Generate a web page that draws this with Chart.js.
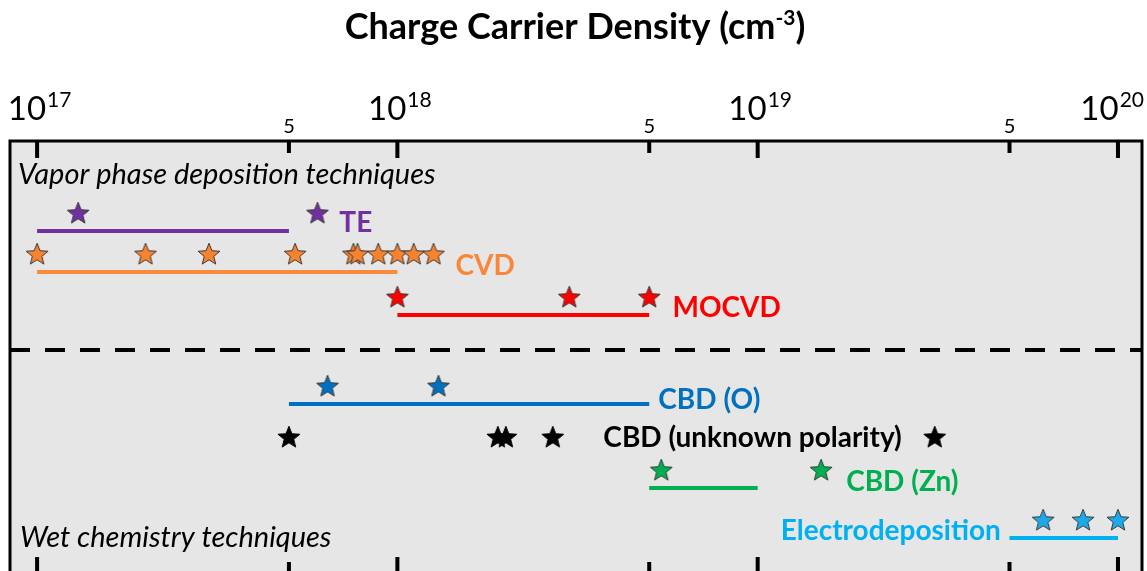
<!DOCTYPE html>
<html>
<head>
<meta charset="utf-8">
<script src="https://cdn.jsdelivr.net/npm/chart.js@4/dist/chart.umd.min.js"></script>
<style>
  html, body { margin: 0; padding: 0; background: #fff; }
  canvas { display: block; }
</style>
</head>
<body>
<canvas id="myChart" width="1147" height="571"></canvas>
<script>
// tick values of the log axis
const tickValues = [1e17, 5e17, 1e18, 5e18, 1e19, 5e19, 1e20];

// ranges (lines) and reported values (stars), cm^-3
const teRange = [1e17, 5e17];
const teStars = [1.3e17, 6.0e17];
const cvdRange = [1e17, 1e18];
const cvdStars = [1.0e17, 2.0e17, 3.0e17, 5.2e17, 7.55e17, 7.75e17, 8.85e17, 1.0e18, 1.11e18, 1.26e18];
const mocvdRange = [1e18, 5e18];
const mocvdStars = [1e18, 3e18, 5e18];
const cbdORange = [5e17, 5e18];
const cbdOStars = [6.4e17, 1.3e18];
const cbdUnknownStars = [5e17, 1.9e18, 2.0e18, 2.7e18, 3.1e19];
const cbdZnRange = [5e18, 1e19];
const cbdZnStars = [5.4e18, 1.5e19];
const electroRange = [5e19, 1e20];
const electroStars = [6.2e19, 8e19, 1e20];

// row level of each technique (y units, top = 0)
const rowTE = 9.0, rowCVD = 13.1, rowMOCVD = 17.4, rowCBDO = 26.3, rowUnknown = 29.6, rowZn = 34.7, rowElectro = 39.7;
const starLift = 1.8;
const separatorRow = 20.9;

const seriesLabels = [
  {text: 'TE', x: 6.9e17, y: rowTE - 0.9, color: '#7030A0', align: 'left'},
  {text: 'CVD', x: 1.45e18, y: rowCVD - 0.7, color: '#F8873A', align: 'left'},
  {text: 'MOCVD', x: 5.8e18, y: rowMOCVD - 0.8, color: '#FF0000', align: 'left'},
  {text: 'CBD (O)', x: 5.3e18, y: rowCBDO - 0.5, color: '#0070C0', align: 'left'},
  {text: 'CBD (unknown polarity)', x: 3.73e18, y: rowUnknown, color: '#000000', align: 'left'},
  {text: 'CBD (Zn)', x: 1.76e19, y: rowZn - 0.7, color: '#00B050', align: 'left'},
  {text: 'Electrodeposition', x: 4.73e19, y: rowElectro - 0.8, color: '#00B0F0', align: 'right'}
];

const FONT = 'Lato, "Open Sans", sans-serif';

function starImage(fill, stroke) {
  const c = document.createElement('canvas');
  c.width = 26; c.height = 26;
  const g = c.getContext('2d');
  const R = 11.5, r = 5.0, cx = 13, cy = 13.8;
  g.beginPath();
  for (let i = 0; i < 10; i++) {
    const rad = i % 2 === 0 ? R : r;
    const a = -Math.PI / 2 + i * Math.PI / 5;
    const px = cx + rad * Math.cos(a), py = cy + rad * Math.sin(a);
    if (i === 0) g.moveTo(px, py); else g.lineTo(px, py);
  }
  g.closePath();
  g.fillStyle = fill;
  g.fill();
  g.lineWidth = 1;
  g.strokeStyle = stroke;
  g.stroke();
  return c;
}

function rangeSet(range, row, color) {
  return {
    type: 'line',
    data: range.map(v => ({x: v, y: row})),
    borderColor: color,
    borderWidth: 4,
    pointRadius: 0,
    borderCapStyle: 'butt'
  };
}

function starSet(values, row, fill, stroke) {
  return {
    type: 'scatter',
    data: values.map(v => ({x: v, y: row})),
    pointStyle: starImage(fill, stroke || '#3a3a3a'),
    pointRadius: 12
  };
}

const decorations = {
  id: 'decorations',
  beforeDraw(chart) {
    const {ctx, chartArea: a} = chart;
    ctx.save();
    ctx.fillStyle = '#E6E6E6';
    ctx.fillRect(a.left, a.top, a.right - a.left, a.bottom - a.top + 10);
    ctx.restore();
  },
  afterDraw(chart) {
    const {ctx, chartArea: a} = chart;
    const xs = chart.scales.x, ys = chart.scales.y;
    ctx.save();

    // border (top, left, right)
    ctx.strokeStyle = '#000';
    ctx.lineWidth = 3;
    ctx.beginPath();
    ctx.moveTo(a.left, a.bottom + 10);
    ctx.lineTo(a.left, a.top);
    ctx.lineTo(a.right, a.top);
    ctx.lineTo(a.right, a.bottom + 10);
    ctx.stroke();

    // ticks, top and bottom
    ctx.lineWidth = 4;
    tickValues.forEach(v => {
      const px = xs.getPixelForValue(v);
      const major = Math.abs(Math.log10(v) - Math.round(Math.log10(v))) < 1e-6;
      const len = major ? 17 : 12;
      ctx.beginPath();
      ctx.moveTo(px, a.top);
      ctx.lineTo(px, a.top + len);
      ctx.moveTo(px, a.bottom);
      ctx.lineTo(px, a.bottom - (major ? 14 : 9));
      ctx.stroke();

      // labels
      ctx.fillStyle = '#000';
      ctx.textBaseline = 'alphabetic';
      if (major) {
        const exp = String(Math.round(Math.log10(v)));
        ctx.font = '33px ' + FONT;
        const wb = ctx.measureText('10').width;
        ctx.font = '21px ' + FONT;
        const we = ctx.measureText(exp).width;
        let x0 = px - (wb + we) / 2 + 2;
        x0 = Math.min(x0, chart.width - 4 - wb - we);
        ctx.textAlign = 'left';
        ctx.font = '33px ' + FONT;
        ctx.fillText('10', x0, a.top - 21);
        ctx.font = '21px ' + FONT;
        ctx.fillText(exp, x0 + wb + 1, a.top - 34);
      } else {
        ctx.font = '20px ' + FONT;
        ctx.textAlign = 'center';
        ctx.fillText(String(Math.round(v / Math.pow(10, Math.floor(Math.log10(v))))), px, a.top - 8);
      }
    });

    // separator
    const sy = ys.getPixelForValue(separatorRow);
    ctx.setLineDash([20, 15]);
    ctx.lineWidth = 4;
    ctx.beginPath();
    ctx.moveTo(a.left, sy);
    ctx.lineTo(a.right, sy);
    ctx.stroke();
    ctx.setLineDash([]);

    // group captions
    ctx.fillStyle = '#000';
    ctx.textAlign = 'left';
    ctx.font = 'italic 29px ' + FONT;
    ctx.fillText('Vapor phase deposition techniques', a.left + 8, a.top + 43);
    ctx.fillText('Wet chemistry techniques', a.left + 10, a.top + 406);

    // series labels
    ctx.font = 'bold 28px ' + FONT;
    ctx.textBaseline = 'middle';
    seriesLabels.forEach(l => {
      ctx.fillStyle = l.color;
      ctx.textAlign = l.align;
      ctx.fillText(l.text, xs.getPixelForValue(l.x), ys.getPixelForValue(l.y) + 1);
    });

    // title
    ctx.fillStyle = '#000';
    ctx.textBaseline = 'alphabetic';
    ctx.font = 'bold 36px ' + FONT;
    const t1 = 'Charge Carrier Density (cm', t2 = '-3', t3 = ')';
    const w1 = ctx.measureText(t1).width, w3 = ctx.measureText(t3).width;
    ctx.font = 'bold 21px ' + FONT;
    const w2 = ctx.measureText(t2).width;
    let tx = 575 - (w1 + w2 + w3) / 2;
    ctx.textAlign = 'left';
    ctx.font = 'bold 36px ' + FONT;
    ctx.fillText(t1, tx, 39);
    ctx.font = 'bold 21px ' + FONT;
    ctx.fillText(t2, tx + w1, 25);
    ctx.font = 'bold 36px ' + FONT;
    ctx.fillText(t3, tx + w1 + w2, 39);

    ctx.restore();
  }
};

const ctx = document.getElementById('myChart').getContext('2d');
const myChart = new Chart(ctx, {
  data: {
    datasets: [
      rangeSet(teRange, rowTE, '#7030A0'),
      rangeSet(cvdRange, rowCVD, '#FA8A3C'),
      rangeSet(mocvdRange, rowMOCVD, '#FF0000'),
      rangeSet(cbdORange, rowCBDO, '#0070C0'),
      rangeSet(cbdZnRange, rowZn, '#00B050'),
      rangeSet(electroRange, rowElectro, '#00B0F0'),
      starSet(teStars, rowTE - starLift, '#7030A0'),
      starSet(cvdStars, rowCVD - starLift, '#F8832E'),
      starSet(mocvdStars, rowMOCVD - starLift, '#FF0000'),
      starSet(cbdOStars, rowCBDO - starLift, '#0070C0'),
      starSet(cbdUnknownStars, rowUnknown, '#000000', '#000000'),
      starSet(cbdZnStars, rowZn - starLift, '#00B050'),
      starSet(electroStars, rowElectro - starLift, '#1EAAE8')
    ]
  },
  options: {
    responsive: false,
    animation: false,
    devicePixelRatio: 1,
    layout: {autoPadding: false, padding: {left: 10, right: 5, top: 141, bottom: 0}},
    plugins: {legend: {display: false}, tooltip: {enabled: false}},
    scales: {
      x: {type: 'logarithmic', min: 0.841e17, max: 1.166e20, display: false},
      y: {type: 'linear', min: 0, max: 43, reverse: true, display: false}
    }
  },
  plugins: [decorations]
});
</script>
</body>
</html>
